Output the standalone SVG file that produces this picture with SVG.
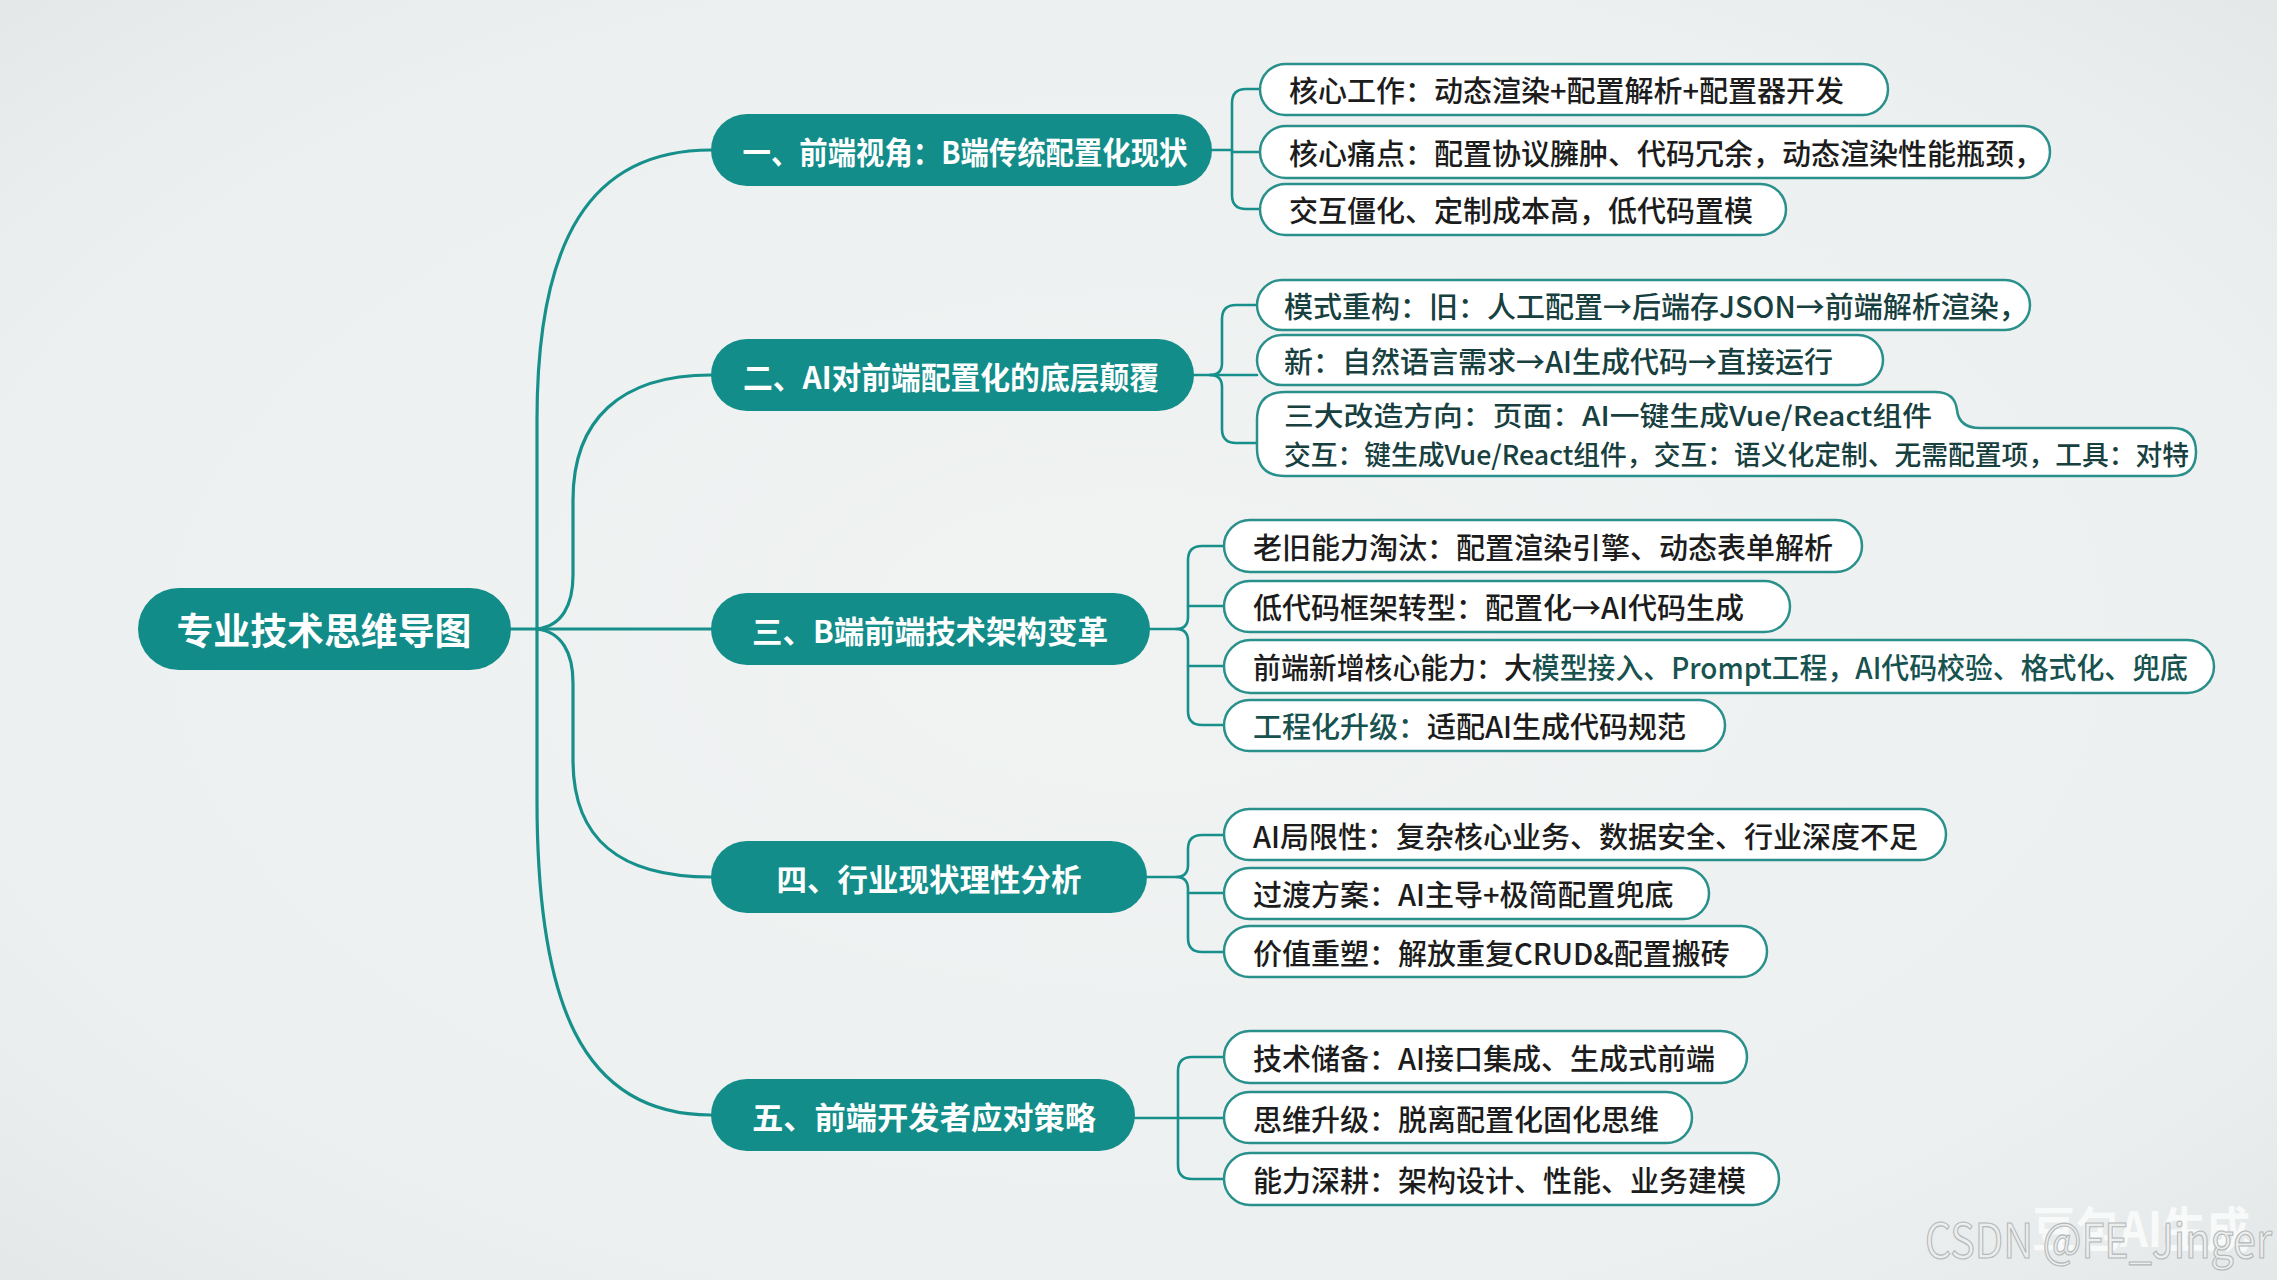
<svg xmlns="http://www.w3.org/2000/svg" width="2277" height="1280" viewBox="0 0 2277 1280">
<defs>
<radialGradient id="bg" cx="50%" cy="50%" r="75%">
<stop offset="0" stop-color="#f1f3f3"/>
<stop offset="0.7" stop-color="#edf0f0"/>
<stop offset="1" stop-color="#e2e6e6"/>
</radialGradient>
<style>
text{font-family:"Noto Sans CJK SC","Noto Sans",sans-serif;}
.root rect{fill:#118c88;}
.root text{fill:#ffffff;font-size:37px;font-weight:700;text-anchor:middle;dominant-baseline:central;}
.branch rect{fill:#128d89;}
.branch text{fill:#ffffff;font-size:31px;font-weight:700;text-anchor:middle;dominant-baseline:central;}
.leaf rect,.leaf path{fill:#ffffff;stroke:#2a908c;stroke-width:2.5;}
.leaf text{fill:#1c1c1c;font-size:29px;font-weight:500;dominant-baseline:central;}
.leaf text.tl{fill:#17403f;}
.leaf text.sm{font-size:27px;}
.tt{fill:#17524f;}
#connectors path{fill:none;stroke:#17908b;stroke-width:3.2;stroke-linecap:round;}
#connectors path.sub{stroke-width:2.6;}
</style>
</defs>
<rect x="0" y="0" width="2277" height="1280" fill="url(#bg)"/>

<g id="connectors">
<path d="M511 629 H711"/>
<path d="M537 629 V420 C537 240 590 150 711 150"/>
<path d="M537 629 C562 626 573 605 573 575 V500 C573 420 620 375 711 375"/>
<path d="M537 629 C562 632 573 653 573 683 V760 C573 840 620 877 711 877"/>
<path d="M537 629 V800 C537 1000 580 1115 711 1115"/>

<path class="sub" d="M1212 150 H1232"/>
<path class="sub" d="M1260 89 H1246 Q1232 89 1232 103 V195 Q1232 209 1246 209 H1260"/>
<path class="sub" d="M1232 152 H1260"/>

<path class="sub" d="M1194 375 H1210 Q1222 375 1222 363 V319 Q1222 305 1236 305 H1257"/>
<path class="sub" d="M1210 375 Q1222 375 1222 387 V429 Q1222 443 1236 443 H1257"/>
<path class="sub" d="M1210 375 H1257"/>

<path class="sub" d="M1150 629 H1176 Q1188 629 1188 617 V560 Q1188 546 1202 546 H1224"/>
<path class="sub" d="M1176 629 Q1188 629 1188 641 V711 Q1188 725 1202 725 H1224"/>
<path class="sub" d="M1188 606 H1224"/>
<path class="sub" d="M1188 666 H1224"/>

<path class="sub" d="M1147 877 H1176 Q1188 877 1188 865 V849 Q1188 835 1202 835 H1224"/>
<path class="sub" d="M1176 877 Q1188 877 1188 889 V938 Q1188 952 1202 952 H1224"/>
<path class="sub" d="M1188 893 H1224"/>

<path class="sub" d="M1135 1118 H1224"/>
<path class="sub" d="M1224 1057 H1192 Q1178 1057 1178 1071 V1165 Q1178 1179 1192 1179 H1224"/>
</g>

<g id="root" class="root">
<rect x="138" y="588" width="373" height="82" rx="41"/>
<text x="324" y="629" textLength="295" lengthAdjust="spacingAndGlyphs">专业技术思维导图</text>
</g>

<g id="b1" class="branch">
<rect x="711" y="114" width="501" height="72" rx="36"/>
<text x="965" y="150" textLength="445" lengthAdjust="spacingAndGlyphs">一、前端视角：B端传统配置化现状</text>
</g>
<g id="b2" class="branch">
<rect x="711" y="339" width="483" height="72" rx="36"/>
<text x="951" y="375" textLength="416" lengthAdjust="spacingAndGlyphs">二、AI对前端配置化的底层颠覆</text>
</g>
<g id="b3" class="branch">
<rect x="711" y="593" width="439" height="72" rx="36"/>
<text x="930" y="629" textLength="356" lengthAdjust="spacingAndGlyphs">三、B端前端技术架构变革</text>
</g>
<g id="b4" class="branch">
<rect x="711" y="841" width="436" height="72" rx="36"/>
<text x="929" y="877" textLength="305" lengthAdjust="spacingAndGlyphs">四、行业现状理性分析</text>
</g>
<g id="b5" class="branch">
<rect x="711" y="1079" width="424" height="72" rx="36"/>
<text x="924" y="1115" textLength="344" lengthAdjust="spacingAndGlyphs">五、前端开发者应对策略</text>
</g>

<g id="l1a" class="leaf"><rect x="1260" y="64" width="628" height="51" rx="25.5"/><text x="1289" y="89">核心工作：动态渲染+配置解析+配置器开发</text></g>
<g id="l1b" class="leaf"><rect x="1260" y="126" width="790" height="52" rx="26"/><text x="1289" y="152">核心痛点：配置协议臃肿、代码冗余，动态渲染性能瓶颈，</text></g>
<g id="l1c" class="leaf"><rect x="1260" y="184" width="526" height="51" rx="25.5"/><text x="1289" y="209">交互僵化、定制成本高，低代码置模</text></g>

<g id="l2a" class="leaf"><rect x="1257" y="280" width="773" height="50" rx="25"/><text class="tl" x="1284" y="305">模式重构：旧：人工配置→后端存JSON→前端解析渲染，</text></g>
<g id="l2b" class="leaf"><rect x="1257" y="335" width="626" height="50" rx="25"/><text class="tl" x="1284" y="360">新：自然语言需求→AI生成代码→直接运行</text></g>
<g id="l2c" class="leaf"><path d="M1285 392 H1935 Q1955 392 1957 410 Q1959 428 1980 428 H2172 Q2196 428 2196 452 Q2196 476 2172 476 H1285 Q1257 476 1257 448 V420 Q1257 392 1285 392 Z"/><text class="tl sm" x="1284" y="414" textLength="648" lengthAdjust="spacingAndGlyphs">三大改造方向：页面：AI一键生成Vue/React组件</text><text class="tl sm" x="1284" y="453" textLength="905" lengthAdjust="spacingAndGlyphs">交互：键生成Vue/React组件，交互：语义化定制、无需配置项，工具：对特</text></g>

<g id="l3a" class="leaf"><rect x="1224" y="520" width="638" height="52" rx="26"/><text x="1253" y="546">老旧能力淘汰：配置渲染引擎、动态表单解析</text></g>
<g id="l3b" class="leaf"><rect x="1224" y="581" width="566" height="51" rx="25.5"/><text x="1253" y="606">低代码框架转型：配置化→AI代码生成</text></g>
<g id="l3c" class="leaf"><rect x="1224" y="640" width="990" height="53" rx="26.5"/><text x="1253" y="666" textLength="935" lengthAdjust="spacingAndGlyphs">前端新增核心能力：大<tspan class="tt">模型接入、Prompt工程，AI代码校验、格式化、兜底</tspan></text></g>
<g id="l3d" class="leaf"><rect x="1224" y="700" width="501" height="51" rx="25.5"/><text x="1253" y="725"><tspan class="tt">工程化升级：</tspan>适配AI生成代码规范</text></g>

<g id="l4a" class="leaf"><rect x="1224" y="809" width="722" height="51" rx="25.5"/><text x="1253" y="835">AI局限性：复杂核心业务、数据安全、行业深度不足</text></g>
<g id="l4b" class="leaf"><rect x="1224" y="868" width="485" height="51" rx="25.5"/><text x="1253" y="893">过渡方案：AI主导+极简配置兜底</text></g>
<g id="l4c" class="leaf"><rect x="1224" y="926" width="543" height="51" rx="25.5"/><text x="1253" y="952">价值重塑：解放重复CRUD&amp;配置搬砖</text></g>

<g id="l5a" class="leaf"><rect x="1224" y="1031" width="523" height="52" rx="26"/><text x="1253" y="1057">技术储备：AI接口集成、生成式前端</text></g>
<g id="l5b" class="leaf"><rect x="1224" y="1092" width="468" height="51" rx="25.5"/><text x="1253" y="1118">思维升级：脱离配置化固化思维</text></g>
<g id="l5c" class="leaf"><rect x="1224" y="1153" width="555" height="52" rx="26"/><text x="1253" y="1179">能力深耕：架构设计、性能、业务建模</text></g>

<g id="watermark">
<text x="2032" y="1247" font-size="48" font-weight="700" fill="#f8f9f9" textLength="218" lengthAdjust="spacingAndGlyphs">豆包AI生成</text>
<text x="1925" y="1258" font-family="Liberation Sans, sans-serif" font-size="48" fill="#eceeee" stroke="#b4b8b8" stroke-width="1.2" textLength="347" lengthAdjust="spacingAndGlyphs">CSDN @FE_Jinger</text>
</g>
</svg>
